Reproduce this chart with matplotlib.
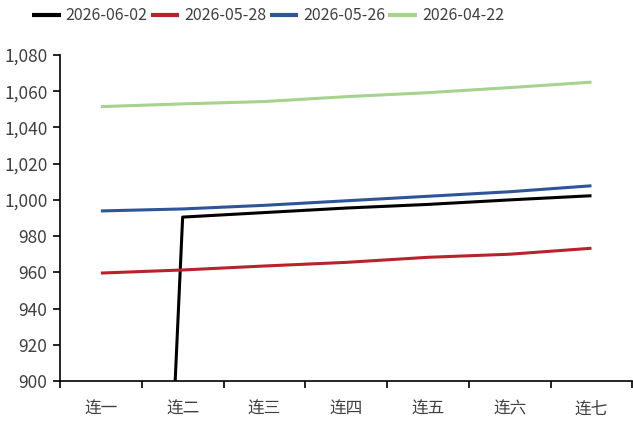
import numpy as np
import matplotlib.pyplot as plt
from matplotlib.ticker import FuncFormatter, FixedLocator

plt.rcParams['font.family'] = ['Noto Sans CJK SC', 'DejaVu Sans']

categories = ['连一', '连二', '连三', '连四', '连五', '连六', '连七']
s_0602 = [0, 990.5, 993.0, 995.5, 997.5, 1000.0, 1002.3]
s_0528 = [959.6, 961.3, 963.5, 965.5, 968.3, 970.0, 973.3]
s_0526 = [993.9, 995.0, 997.0, 999.5, 1002.0, 1004.5, 1007.8]
s_0422 = [1051.5, 1053.0, 1054.3, 1057.0, 1059.2, 1062.0, 1065.0]

series = [
    ('2026-06-02', s_0602, '#000000'),
    ('2026-05-28', s_0528, '#B8232B'),
    ('2026-05-26', s_0526, '#2E5597'),
    ('2026-04-22', s_0422, '#A6D38D'),
]

fig = plt.figure(figsize=(6.33, 4.21), dpi=100)
ax = fig.add_axes([60 / 633, 1 - 381 / 421, 1 - 60 / 633 - 0.001, (381 - 55) / 421])

x = np.arange(len(categories))
for name, vals, col in series:
    ax.plot(x, vals, color=col, lw=2.2, label=name, solid_capstyle='butt')

ax.set_xlim(-0.5, len(categories) - 0.5)
ax.set_ylim(900, 1080)
ax.set_yticks(np.arange(900, 1081, 20))
ax.yaxis.set_major_formatter(FuncFormatter(lambda v, p: f'{int(v):,}'))

ax.set_xticks(x)
ax.set_xticklabels(categories)
ax.xaxis.set_minor_locator(FixedLocator(np.arange(-0.5, len(categories), 1.0)))
ax.tick_params(axis='x', which='major', length=0, pad=14)
ax.tick_params(axis='x', which='minor', length=5, width=1.2, direction='out')
ax.tick_params(axis='y', length=5, width=1.2, direction='out', pad=4)
ax.tick_params(axis='y', labelsize=12.5, labelcolor='#404040')
ax.tick_params(axis='x', labelsize=12, labelcolor='#404040')

for sp in ['top', 'right']:
    ax.spines[sp].set_visible(False)
for sp in ['left', 'bottom']:
    ax.spines[sp].set_linewidth(1.2)

leg = fig.legend(loc='center', bbox_to_anchor=(268 / 633, 1 - 16 / 421), ncol=4,
                 frameon=False, fontsize=11.5, handlelength=1.8,
                 handletextpad=0.3, columnspacing=0.2, borderpad=0)
for t in leg.get_texts():
    t.set_color('#404040')
for h in leg.legend_handles:
    h.set_linewidth(3)

fig.savefig('out.png', dpi=100)
